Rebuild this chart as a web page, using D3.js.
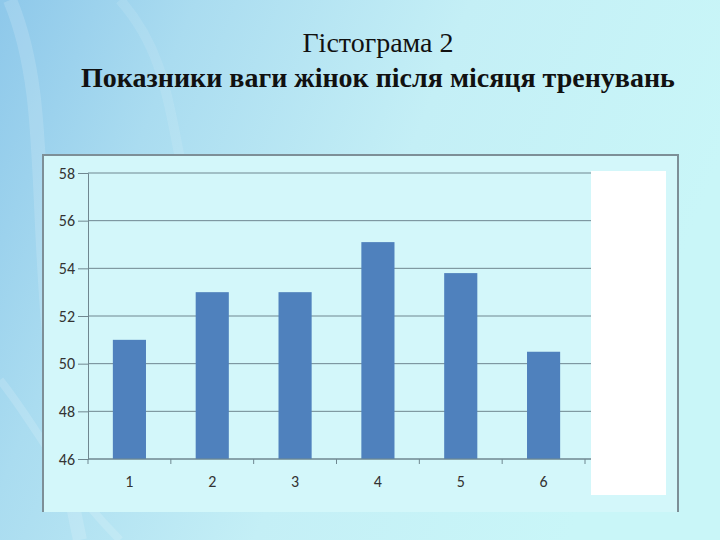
<!DOCTYPE html>
<html><head><meta charset="utf-8">
<script src="https://cdn.jsdelivr.net/npm/d3@7"></script>
<style>html,body{margin:0;padding:0;}svg{display:block;}</style>
</head><body>
<script>
const categories = ["1","2","3","4","5","6"];
const values = [51, 53, 53, 55.1, 53.8, 50.5];
const yTicks = [46, 48, 50, 52, 54, 56, 58];
const titleLine1 = "Гістограма 2";
const titleLine2 = "Показники ваги жінок після місяця тренувань";

const W = 720, H = 540;
const svg = d3.select("body").append("svg").attr("width", W).attr("height", H);
const defs = svg.append("defs");
const bg = defs.append("linearGradient").attr("id","bg").attr("x1","0").attr("y1","0").attr("x2","1").attr("y2","0.3");
bg.append("stop").attr("offset","0").attr("stop-color","#8ec8ea");
bg.append("stop").attr("offset","0.25").attr("stop-color","#aadcf0");
bg.append("stop").attr("offset","0.6").attr("stop-color","#c4eff6");
bg.append("stop").attr("offset","1").attr("stop-color","#c9f6f8");
svg.append("rect").attr("width",W).attr("height",H).attr("fill","url(#bg)");
// soft swirl highlights
const sw = svg.append("g").attr("fill","none").attr("stroke","#ffffff");
sw.append("path").attr("d","M10,0 C60,120 20,260 80,540").attr("stroke-width",14).attr("stroke-opacity",0.15);
sw.append("path").attr("d","M120,0 C200,90 150,200 250,300").attr("stroke-width",10).attr("stroke-opacity",0.1);
sw.append("path").attr("d","M0,380 C40,430 60,480 120,540").attr("stroke-width",8).attr("stroke-opacity",0.15);

// titles
svg.append("text").attr("x",378).attr("y",52).attr("text-anchor","middle")
  .attr("font-family","'Liberation Serif','Times New Roman',serif").attr("font-size",28)
  .attr("fill","#111").text(titleLine1);
svg.append("text").attr("x",378).attr("y",87).attr("text-anchor","middle")
  .attr("font-family","'Liberation Serif','Times New Roman',serif").attr("font-size",28).attr("font-weight","bold")
  .attr("fill","#111").text(titleLine2);

// chart frame
svg.append("rect").attr("x",43).attr("y",155).attr("width",635).attr("height",357).attr("fill","#d3f7fa");
svg.append("path").attr("d","M43,512 V155 H678 V512").attr("fill","none").attr("stroke","#7d8f97").attr("stroke-width",2);

const m = {left: 88, right: 585, top: 173, bottom: 459};
const x = d3.scaleBand().domain(categories).range([m.left, m.right]).paddingInner(0.6).paddingOuter(0.3);
const y = d3.scaleLinear().domain([46, 58]).range([m.bottom, m.top]);

// gridlines
svg.append("g").selectAll("line").data(yTicks).join("line")
  .attr("x1", m.left).attr("x2", 591).attr("y1", d=>y(d)).attr("y2", d=>y(d))
  .attr("stroke","#6f8790").attr("stroke-width",1);

// y axis
const yAxis = svg.append("g").attr("transform",`translate(${m.left},0)`)
  .call(d3.axisLeft(y).tickValues(yTicks).tickSize(10).tickPadding(3).tickFormat(d3.format("d")));
yAxis.select(".domain").attr("stroke","#6f8790");
yAxis.selectAll(".tick line").attr("stroke","#6f8790");
yAxis.selectAll("text").attr("font-family","Carlito,'Open Sans',sans-serif").attr("font-size",16).attr("fill","#333");

// bars
svg.append("g").selectAll("rect").data(values).join("rect")
  .attr("x",(d,i)=>x(categories[i])).attr("width",x.bandwidth())
  .attr("y",d=>y(d)).attr("height",d=>y(46)-y(d))
  .attr("fill","#4f81bd");

// x axis
const boundaries = d3.range(categories.length+1).map(i => m.left + i*(m.right-m.left)/categories.length);
const xg = svg.append("g");
xg.append("line").attr("x1",m.left).attr("x2",591).attr("y1",m.bottom).attr("y2",m.bottom).attr("stroke","#6f8790");
xg.selectAll("line.tk").data(boundaries).join("line").attr("class","tk")
  .attr("x1",d=>d).attr("x2",d=>d).attr("y1",m.bottom).attr("y2",m.bottom+5).attr("stroke","#6f8790");
xg.selectAll("text").data(categories).join("text")
  .attr("x",d=>x(d)+x.bandwidth()/2).attr("y",487).attr("text-anchor","middle")
  .attr("font-family","Carlito,'Open Sans',sans-serif").attr("font-size",16).attr("fill","#333").text(d=>d);

// legend area (empty white box)
svg.append("rect").attr("x",591).attr("y",171).attr("width",75).attr("height",324).attr("fill","#ffffff");
</script>
</body></html>
